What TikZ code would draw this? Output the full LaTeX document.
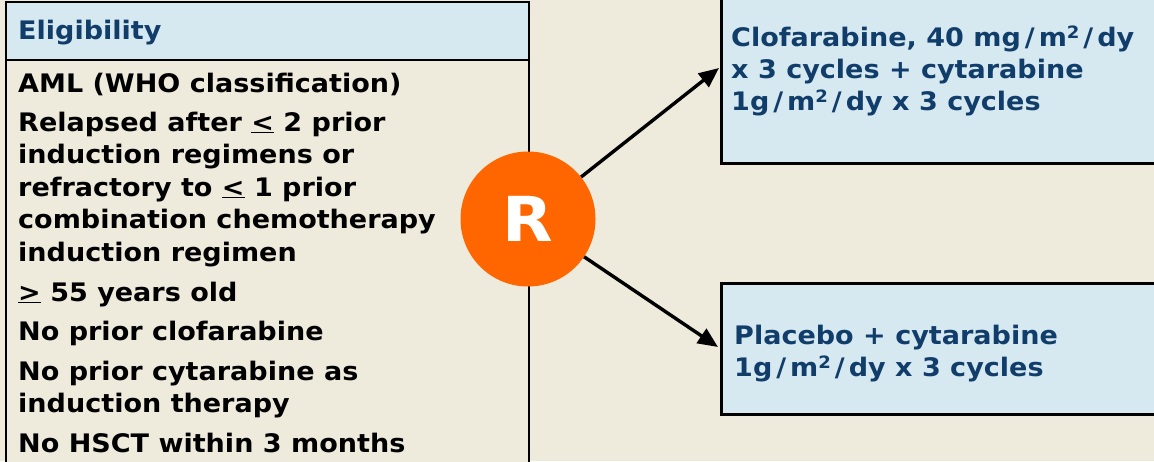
\documentclass[tikz,border=0pt]{standalone}
\usepackage{fontspec}
\setmainfont{DejaVu Sans}
\newfontfamily\vb{DejaVu Sans Bold}[FakeStretch=1.06]
\usetikzlibrary{arrows.meta}
\definecolor{bg}{RGB}{238,234,220}
\definecolor{hdr}{RGB}{214,232,240}
\definecolor{navy}{RGB}{17,61,107}
\definecolor{orng}{RGB}{255,102,0}
\newcommand\sqr{\raisebox{7.5pt}{\fontsize{17}{17}\selectfont 2}}
\newcommand\slsh{\kern4pt/\kern4pt}
\begin{document}
\begin{tikzpicture}[x=1pt,y=-1pt,
  lefttxt/.style={anchor=base west, align=left, inner sep=0pt, font=\vb\fontsize{25.5}{32.5}\selectfont, text=black},
  bluetxt/.style={anchor=base west, align=left, inner sep=0pt, font=\vb\fontsize{25.5}{32}\selectfont, text=navy},
  armbox/.style={draw=black, line width=3.2pt, fill=hdr, anchor=north west, inner sep=0pt},
  arr/.style={line width=3.4pt, -{Triangle[length=20pt,width=17pt]}}]
\useasboundingbox (0,0) rectangle (1154,461);
\fill[bg] (0,0) rectangle (1154,461);
\clip (0,0) rectangle (1154,461);
% left eligibility box
\node[draw=black, line width=2.2pt, fill=bg, anchor=north west, minimum width=523pt, minimum height=480pt, inner sep=0pt] (body) at (5,1) {};
\node[draw=black, line width=2.2pt, fill=hdr, anchor=north west, minimum width=523pt, minimum height=58pt, inner sep=0pt] (head) at (5,1) {};
\node[bluetxt] (title) at (18,39) {Eligibility};
\node[lefttxt] (c1) at (18,92.5) {AML (WHO classification)};
\node[lefttxt] (c2) at (18,261) {Relapsed after \underline{<} 2 prior\\induction regimens or\\refractory to \underline{<} 1 prior\\combination chemotherapy\\induction regimen};
\node[lefttxt] (c3) at (18,301) {\underline{>} 55 years old};
\node[lefttxt] (c4) at (18,340) {No prior clofarabine};
\node[lefttxt] (c5) at (18,412.5) {No prior cytarabine as\\induction therapy};
\node[lefttxt] (c6) at (18,452.5) {No HSCT within 3 months};
% arms
\node[armbox, minimum width=460pt, minimum height=176pt] (arm1) at (720,-14) {};
\node[armbox, minimum width=460pt, minimum height=131pt] (arm2) at (720,282) {};
\node[bluetxt] (t1) at (731,110) {Clofarabine, 40 mg\slsh m\sqr\slsh dy\\x 3 cycles + cytarabine\\1g\slsh m\sqr\slsh dy x 3 cycles};
\node[bluetxt] (t2) at (734,376) {Placebo + cytarabine\\1g\slsh m\sqr\slsh dy x 3 cycles};
% randomisation
\node[circle, fill=orng, minimum size=135pt, inner sep=0pt, text=white, font=\vb\fontsize{62}{62}\selectfont] (R) at (528,219) {R};
\coordinate (e1) at (719,68);
\coordinate (e2) at (718,347);
\draw[arr] (R) -- (e1);
\draw[arr] (R) -- (e2);
\end{tikzpicture}
\end{document}
